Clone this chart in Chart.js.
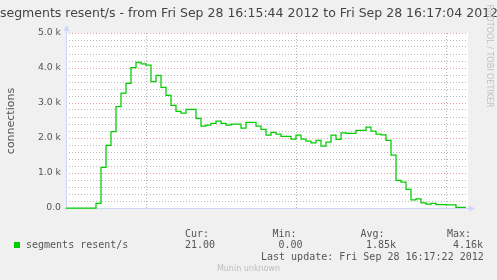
<!DOCTYPE html>
<html>
<head>
<meta charset="utf-8">
<title>segments resent/s</title>
<script src="https://cdn.jsdelivr.net/npm/chart.js@4"></script>
<style>
    html, body { margin: 0; padding: 0; background: #f0f0f0; }
    #graph { position: relative; width: 497px; height: 280px; overflow: hidden; background: #f0f0f0; }
    #graph canvas { position: absolute; left: 0; top: 0; }
    .txt { position: absolute; white-space: nowrap; color: #555; }
    .mono { font-family: 'DejaVu Sans Mono', monospace; font-size: 10px; line-height: 10px; }
    #title { left: -101px; width: 700px; top: 7.4px; text-align: center; font: 12.5px/12.5px 'DejaVu Sans', sans-serif; color: #444; }
    #ylabel { left: -49px; top: 113.5px; width: 120px; height: 14px; text-align: center; font: 11px/14px 'DejaVu Sans', sans-serif; transform: rotate(-90deg); }
    #watermark { left: 424px; top: 51px; width: 130px; height: 10px; text-align: center; font: 8px/10px 'DejaVu Sans', sans-serif; color: #c2c2c2; transform: rotate(90deg); }
    #footer { left: 0; width: 497px; top: 264.7px; text-align: center; font: 8px/8px 'DejaVu Sans', sans-serif; color: #bdbdbd; }
    #swatch { position: absolute; left: 14px; top: 242px; width: 6px; height: 6px; background: #00cc00; }
</style>
</head>
<body>
<div id="graph">
    <canvas id="munin-chart" width="497" height="280"></canvas>
    <div id="title" class="txt"></div>
    <div id="ylabel" class="txt"></div>
    <div id="watermark" class="txt">RRDTOOL / TOBI OETIKER</div>
    <div id="swatch"></div>
    <div id="footer" class="txt">Munin unknown</div>
</div>
<script>
// one value per second, starting at 16:15:44
const seriesLabel = 'segments resent/s';
const startTime = 'Fri Sep 28 16:15:44 2012';
const endTime = 'Fri Sep 28 16:17:04 2012';
const lastUpdate = 'Fri Sep 28 16:17:22 2012';
const values = [
    0, 0, 0, 0, 0, 0, 130, 1160, 1790, 2180, 2900, 3280, 3560, 4010, 4160, 4120, 4080,
    3610, 3790, 3450, 3220, 2930, 2760, 2710, 2820, 2820, 2560, 2340, 2370, 2420, 2480,
    2420, 2370, 2400, 2400, 2280, 2450, 2450, 2340, 2250, 2080, 2160, 2110, 2050, 2050,
    1970, 2080, 1970, 1910, 1860, 1930,
    1770, 1880, 2080, 1960, 2150, 2130, 2130, 2220, 2220, 2310, 2200, 2110, 2090, 1930, 1510,
    790, 740, 530, 230, 260, 150, 110, 130, 100, 100, 90, 90, 21, 21
];
const xGridSeconds = [16, 46, 76]; // 16:16:00, 16:16:30, 16:17:00
const yTickValues = [0, 1000, 2000, 3000, 4000, 5000];
const yTickLabels = ['0.0', '1.0 k', '2.0 k', '3.0 k', '4.0 k', '5.0 k'];
const statNames = ['Cur:', 'Min:', 'Avg:', 'Max:'];
const statValues = ['21.00', '0.00', '1.85k', '4.16k'];

document.getElementById('title').textContent = seriesLabel + ' - from ' + startTime + ' to ' + endTime;
document.getElementById('ylabel').textContent = 'connections';

// legend block (rrdtool style, monospace)
const graph = document.getElementById('graph');
function addText(str, left, top) {
    const d = document.createElement('div');
    d.className = 'txt mono';
    d.style.left = left + 'px';
    d.style.top = top + 'px';
    d.textContent = str;
    graph.appendChild(d);
}
const statHeadX = [185, 272.5, 360.5, 447];
const statValX = [185, 278.5, 366, 453];
addText(seriesLabel, 26, 240.2);
statNames.forEach((s, i) => addText(s, statHeadX[i], 228.5));
statValues.forEach((s, i) => addText(s, statValX[i], 240.2));
addText('Last update: ' + lastUpdate, 261, 252);

const points = values.map((v, i) => ({ x: i, y: v }));
points.push({ x: values.length, y: values[values.length - 1] });

const axisColor = '#cfd6f8';
const muninFrame = {
    id: 'muninFrame',
    beforeDraw(chart) {
        const { ctx, chartArea: a } = chart;
        ctx.save();
        ctx.fillStyle = '#ffffff';
        ctx.fillRect(a.left, a.top, a.right - a.left + 2, a.bottom - a.top);
        ctx.restore();
    },
    beforeDatasetsDraw(chart) {
        const { ctx, chartArea: a } = chart;
        const x0 = Math.round(a.left) + 0.5;
        const y0 = Math.round(a.bottom) + 0.5;
        ctx.save();
        ctx.strokeStyle = axisColor;
        ctx.fillStyle = axisColor;
        ctx.lineWidth = 1;
        ctx.beginPath();
        ctx.moveTo(x0, y0 + 2);
        ctx.lineTo(x0, a.top - 3);
        ctx.moveTo(x0 - 3, y0);
        ctx.lineTo(a.right + 4, y0);
        ctx.stroke();
        // arrows
        ctx.beginPath();
        ctx.moveTo(x0, a.top - 8);
        ctx.lineTo(x0 - 3, a.top - 2);
        ctx.lineTo(x0 + 3, a.top - 2);
        ctx.closePath();
        ctx.fill();
        ctx.beginPath();
        ctx.moveTo(a.right + 9, y0);
        ctx.lineTo(a.right + 3, y0 - 3);
        ctx.lineTo(a.right + 3, y0 + 3);
        ctx.closePath();
        ctx.fill();
        ctx.restore();
    }
};

const chart = new Chart(document.getElementById('munin-chart').getContext('2d'), {
    type: 'line',
    data: {
        datasets: [{
            label: seriesLabel,
            data: points,
            borderColor: '#00cc00',
            borderWidth: 1.25,
            pointRadius: 0,
            stepped: true,
            fill: false,
            clip: 3
        }]
    },
    options: {
        responsive: false,
        animation: false,
        devicePixelRatio: 1,
        layout: { padding: { left: 0, top: 33, right: 31, bottom: 72 } },
        plugins: {
            legend: { display: false },
            title: { display: false },
            tooltip: { enabled: false }
        },
        scales: {
            x: {
                type: 'linear',
                min: 0,
                max: values.length,
                afterBuildTicks: (s) => { s.ticks = xGridSeconds.map(v => ({ value: v })); },
                afterFit: (s) => { s.height = 0; },
                ticks: { display: false },
                grid: { color: 'rgba(120,120,120,0.55)', drawTicks: false, lineWidth: 1 },
                border: { display: false, dash: [1, 2] }
            },
            y: {
                min: 0,
                max: 5000,
                afterFit: (s) => { s.width = 66; },
                ticks: {
                    stepSize: 200,
                    autoSkip: false,
                    maxTicksLimit: 100,
                    padding: 5,
                    color: '#555',
                    font: { family: 'DejaVu Sans', size: 9.3 },
                    callback: (v) => {
                        const i = yTickValues.indexOf(v);
                        return i >= 0 ? yTickLabels[i] : '';
                    }
                },
                grid: {
                    drawTicks: false,
                    lineWidth: 1,
                    color: (c) => (c.tick && c.tick.value % 1000 === 0) ? 'rgba(230,90,90,0.6)' : 'rgba(120,120,120,0.5)'
                },
                border: { display: false, dash: [1, 2] }
            }
        }
    },
    plugins: [muninFrame]
});
</script>
</body>
</html>
